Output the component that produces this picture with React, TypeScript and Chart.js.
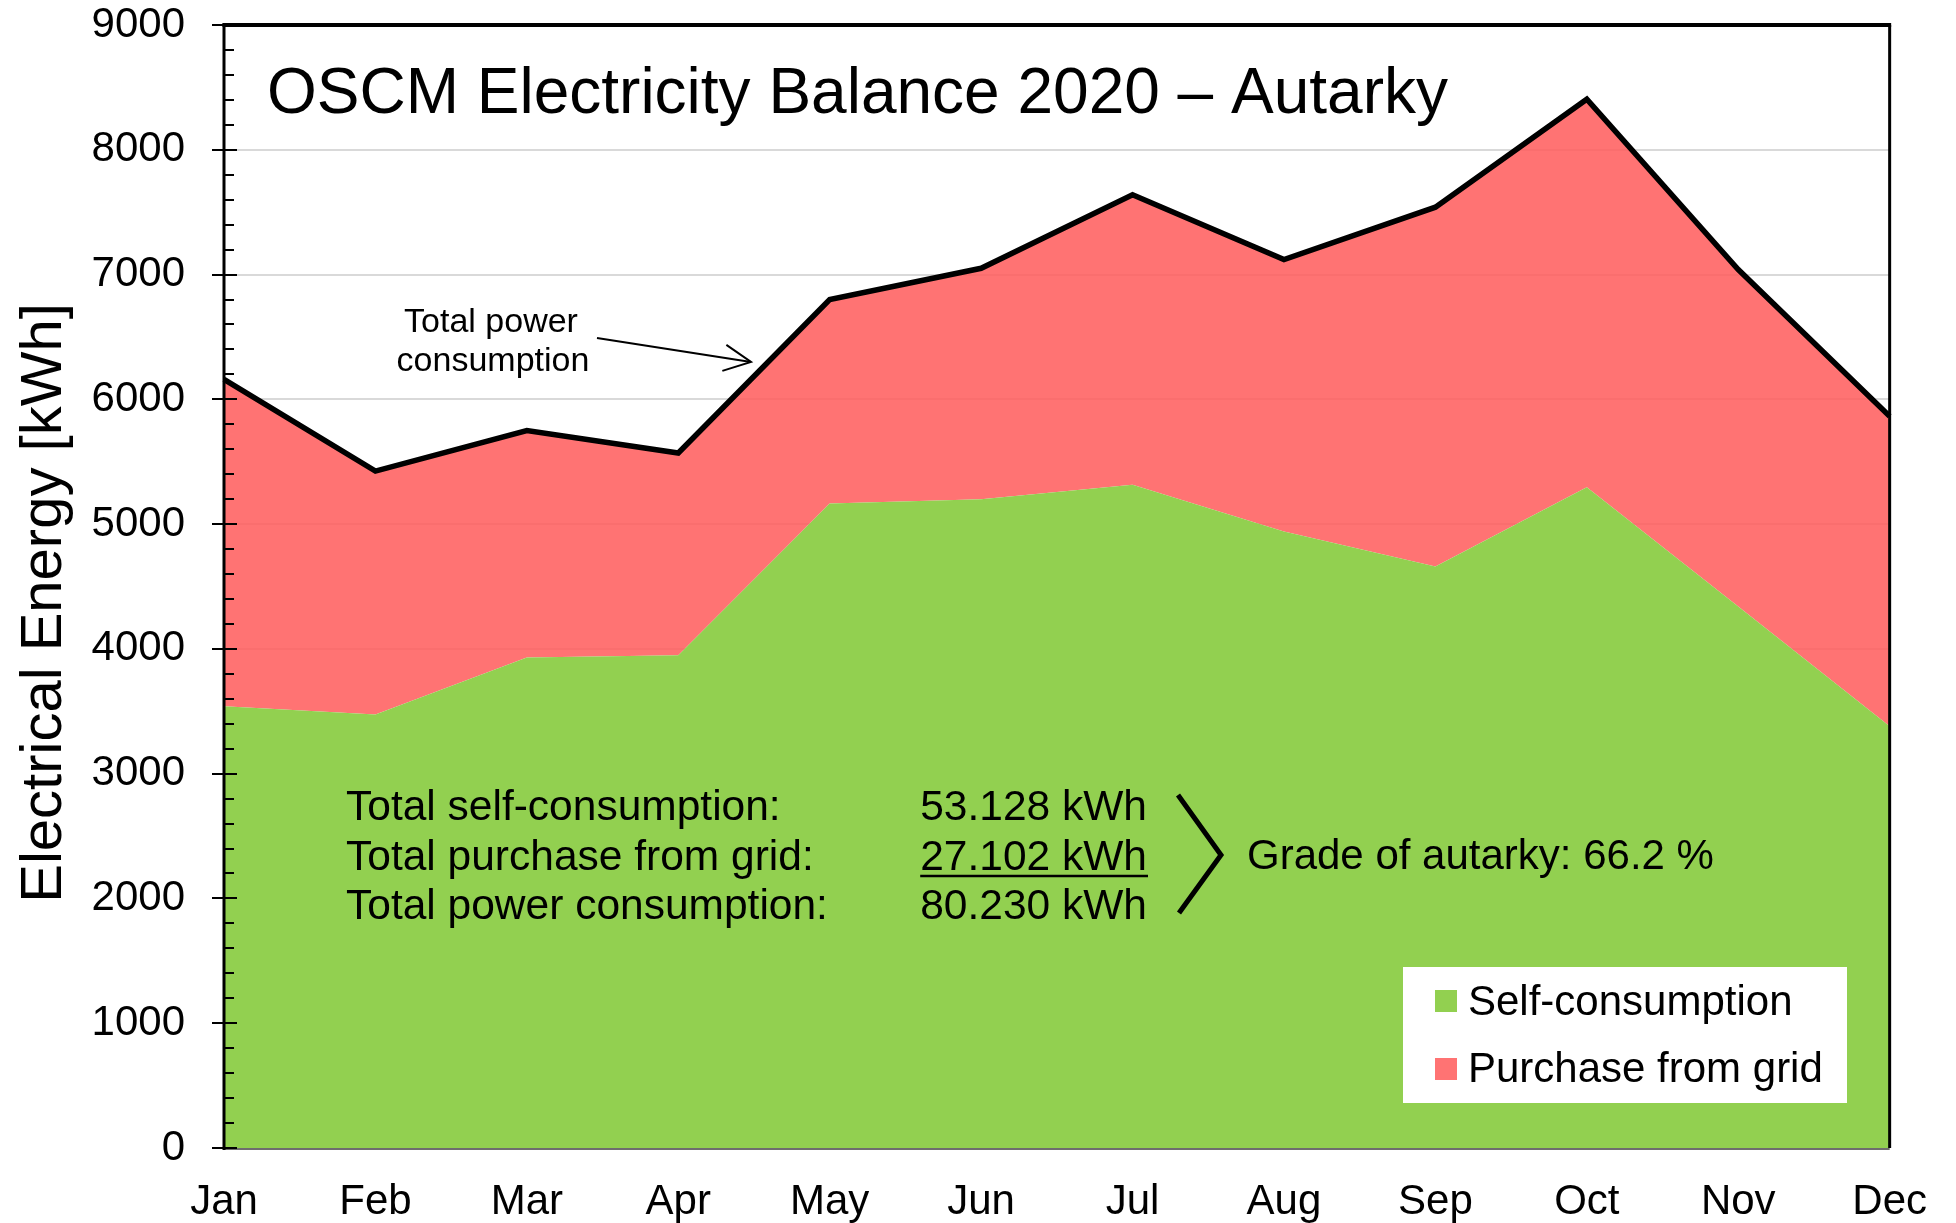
import React, { useEffect, useRef } from 'react';
import { Chart, registerables } from 'chart.js';

Chart.register(...registerables);

// ---------- data ----------
const MONTHS = ['Jan', 'Feb', 'Mar', 'Apr', 'May', 'Jun', 'Jul', 'Aug', 'Sep', 'Oct', 'Nov', 'Dec'];
const SELF_CONSUMPTION = [3540, 3475, 3930, 3950, 5165, 5200, 5315, 4940, 4660, 5295, 4340, 3380];
const TOTAL_CONSUMPTION = [6160, 5425, 5750, 5570, 6800, 7050, 7640, 7120, 7540, 8405, 7040, 5865];
const Y_MIN = 0;
const Y_MAX = 9000;
const Y_STEP = 1000;
const Y_MINOR_STEP = 200;

const TITLE = 'OSCM Electricity Balance 2020 – Autarky';
const Y_TITLE = 'Electrical Energy [kWh]';
const SERIES_LABELS = ['Self-consumption', 'Purchase from grid'];
const ARROW_LABEL = ['Total power', 'consumption'];
const SUMMARY_LABELS = ['Total self-consumption:', 'Total purchase from grid:', 'Total power consumption:'];
const SUMMARY_VALUES = ['53.128 kWh', '27.102 kWh', '80.230 kWh'];
const AUTARKY_TEXT = 'Grade of autarky: 66.2 %';

// ---------- style ----------
const FONT = "'Liberation Sans', Arial, Helvetica, sans-serif";
const GREEN = '#92D050';
const RED_FILL = 'rgba(255, 90, 90, 0.85)';
const RED_SOLID = '#FF7373';
const GRID = '#D9D9D9';

const decorPlugin = {
  id: 'decor',
  afterDatasetsDraw(chart: any) {
    const { ctx, chartArea: a, scales } = chart;
    const ys = scales.y;
    ctx.save();

    // frame: top & right
    ctx.strokeStyle = '#000';
    ctx.lineCap = 'butt';
    ctx.lineWidth = 4;
    ctx.beginPath();
    ctx.moveTo(a.left - 1.5, a.top);
    ctx.lineTo(a.right + 1.5, a.top);
    ctx.stroke();
    ctx.lineWidth = 3;
    ctx.beginPath();
    ctx.moveTo(a.right, a.top);
    ctx.lineTo(a.right, a.bottom);
    ctx.stroke();

    // bottom axis
    ctx.strokeStyle = '#6e6e6e';
    ctx.lineWidth = 2;
    ctx.beginPath();
    ctx.moveTo(a.left, a.bottom + 1);
    ctx.lineTo(a.right, a.bottom + 1);
    ctx.stroke();

    // left axis
    ctx.strokeStyle = '#000';
    ctx.lineWidth = 3;
    ctx.beginPath();
    ctx.moveTo(a.left, a.top - 1.5);
    ctx.lineTo(a.left, a.bottom + 2);
    ctx.stroke();

    // y ticks (major + minor)
    ctx.lineWidth = 2;
    for (let v = Y_MIN; v <= Y_MAX; v += Y_MINOR_STEP) {
      const py = Math.round(ys.getPixelForValue(v));
      const major = v % Y_STEP === 0;
      ctx.beginPath();
      ctx.moveTo(major ? a.left - 12 : a.left, py);
      ctx.lineTo(major ? a.left + 13 : a.left + 10, py);
      ctx.stroke();
    }

    // y axis title
    ctx.save();
    ctx.translate(61, 603);
    ctx.rotate(-Math.PI / 2);
    ctx.font = `58px ${FONT}`;
    ctx.fillStyle = '#000';
    ctx.textAlign = 'center';
    ctx.textBaseline = 'alphabetic';
    ctx.fillText(Y_TITLE, 0, 0);
    ctx.restore();

    ctx.fillStyle = '#000';
    ctx.textBaseline = 'alphabetic';

    // title
    ctx.font = `64px ${FONT}`;
    ctx.textAlign = 'left';
    ctx.fillText(TITLE, 267, 113);

    // arrow annotation
    ctx.font = `34px ${FONT}`;
    ctx.textAlign = 'center';
    ctx.fillText(ARROW_LABEL[0], 491, 332);
    ctx.fillText(ARROW_LABEL[1], 493, 371);
    const x0 = 597, y0 = 338, x1 = 751, y1 = 362;
    ctx.lineWidth = 2;
    ctx.beginPath();
    ctx.moveTo(x0, y0);
    ctx.lineTo(x1, y1);
    ctx.stroke();
    const ang = Math.atan2(y1 - y0, x1 - x0);
    const hl = 30, ha = (26 * Math.PI) / 180;
    ctx.beginPath();
    ctx.moveTo(x1 - hl * Math.cos(ang - ha), y1 - hl * Math.sin(ang - ha));
    ctx.lineTo(x1, y1);
    ctx.lineTo(x1 - hl * Math.cos(ang + ha), y1 - hl * Math.sin(ang + ha));
    ctx.stroke();

    // summary block
    ctx.font = `42.5px ${FONT}`;
    const baselines = [820, 870, 919];
    SUMMARY_LABELS.forEach((t, i) => {
      ctx.textAlign = 'left';
      ctx.fillText(t, 346, baselines[i]);
      ctx.textAlign = 'right';
      ctx.fillText(SUMMARY_VALUES[i], 1147, baselines[i]);
    });
    // underline of the second value
    const w2 = ctx.measureText(SUMMARY_VALUES[1]).width;
    ctx.lineWidth = 2.5;
    ctx.beginPath();
    ctx.moveTo(1147 - w2, 876);
    ctx.lineTo(1148, 876);
    ctx.stroke();

    // bracket
    ctx.lineWidth = 5;
    ctx.lineJoin = 'miter';
    ctx.beginPath();
    ctx.moveTo(1178, 795);
    ctx.lineTo(1221, 855);
    ctx.lineTo(1179, 913);
    ctx.stroke();

    ctx.font = `42px ${FONT}`;
    ctx.textAlign = 'left';
    ctx.fillText(AUTARKY_TEXT, 1247, 869);

    // legend
    ctx.fillStyle = '#fff';
    ctx.fillRect(1403, 967, 444, 136);
    ctx.fillStyle = GREEN;
    ctx.fillRect(1435, 990, 22, 22);
    ctx.fillStyle = RED_SOLID;
    ctx.fillRect(1435, 1058, 22, 22);
    ctx.fillStyle = '#000';
    ctx.fillText(SERIES_LABELS[0], 1468, 1015);
    ctx.fillText(SERIES_LABELS[1], 1468, 1082);

    ctx.restore();
  },
};

export default function App() {
  const canvasRef = useRef<HTMLCanvasElement | null>(null);

  useEffect(() => {
    const canvas = canvasRef.current;
    if (!canvas) return;
    const chart = new Chart(canvas, {
      type: 'line',
      data: {
        labels: MONTHS,
        datasets: [
          {
            label: SERIES_LABELS[0],
            data: SELF_CONSUMPTION,
            backgroundColor: GREEN,
            borderWidth: 0,
            borderColor: 'rgba(0,0,0,0)',
            fill: 'origin',
            pointRadius: 0,
            tension: 0,
          },
          {
            label: SERIES_LABELS[1],
            data: TOTAL_CONSUMPTION,
            backgroundColor: RED_FILL,
            borderColor: '#000',
            borderWidth: 5.5,
            borderJoinStyle: 'miter',
            fill: '-1',
            pointRadius: 0,
            tension: 0,
          },
        ],
      },
      options: {
        responsive: false,
        animation: false,
        devicePixelRatio: 1,
        layout: { padding: { left: 0, right: 64, top: 25, bottom: 0 } },
        plugins: {
          legend: { display: false },
          tooltip: { enabled: false },
          title: { display: false },
        },
        scales: {
          x: {
            type: 'category',
            offset: false,
            grid: { display: false, drawTicks: false },
            border: { display: false },
            ticks: {
              autoSkip: false,
              maxRotation: 0,
              minRotation: 0,
              padding: 29,
              color: '#000',
              font: { family: FONT, size: 42, lineHeight: 1.2 },
            },
            afterFit: (axis: any) => {
              axis.height = 75;
            },
          },
          y: {
            min: Y_MIN,
            max: Y_MAX,
            grid: { color: GRID, lineWidth: 2, drawTicks: false },
            border: { display: false },
            ticks: {
              stepSize: Y_STEP,
              padding: 39,
              color: '#000',
              font: { family: FONT, size: 42, lineHeight: 1 },
              callback: (v: any) => String(v),
            },
            afterFit: (axis: any) => {
              axis.width = 224;
              axis.paddingTop = 0;
              axis.paddingBottom = 0;
            },
          },
        },
      },
      plugins: [decorPlugin],
    });
    return () => chart.destroy();
  }, []);

  return (
    <div style={{ position: 'absolute', left: 0, top: 0, width: 1956, height: 1223, background: '#fff' }}>
      <canvas ref={canvasRef} width={1956} height={1223} style={{ display: 'block' }} />
    </div>
  );
}
